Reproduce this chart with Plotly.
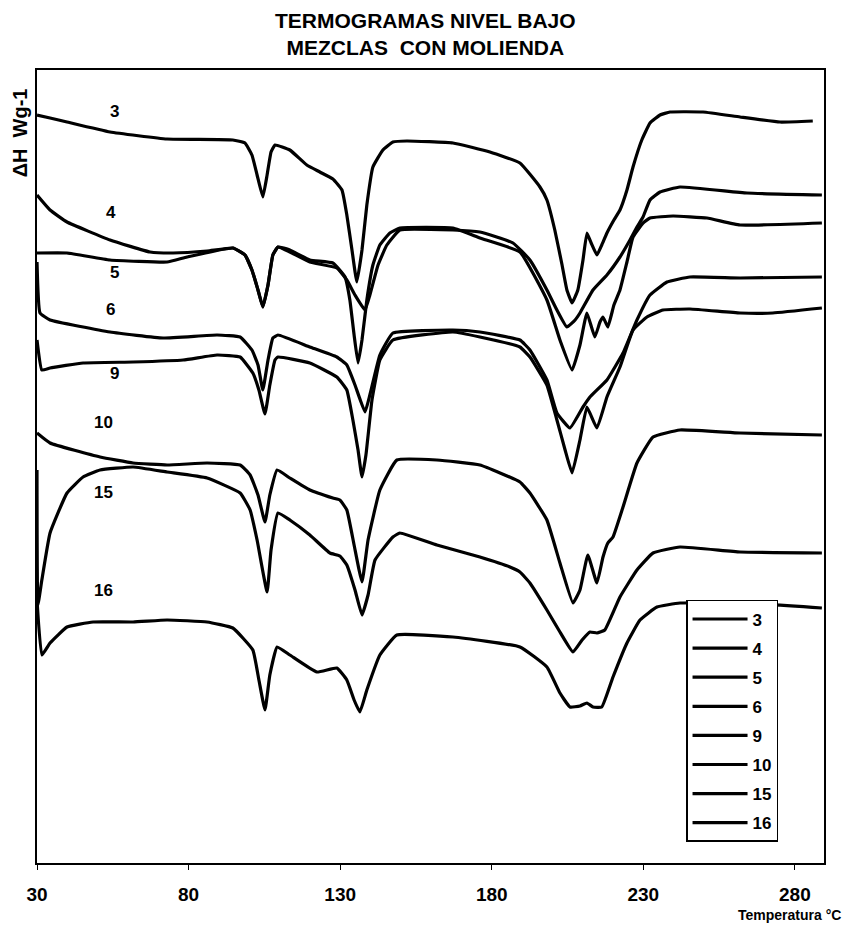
import plotly.graph_objects as go

# DSC thermograms (heat flow, arbitrary offset units) vs temperature
t3 = [30.0, 34.3, 39.9, 54.1, 72.9, 94.6, 98.6, 100.9, 102.6, 104.5, 105.9, 107.2, 108.5, 113.4, 119.0,
      123.3, 127.6, 130.6, 132.2, 133.9, 135.5, 137.2, 138.8, 140.8, 144.1, 147.4, 152.0, 167.2, 179.4,
      189.3, 195.9, 198.2, 200.8, 203.2, 204.8, 206.5, 208.4, 210.1, 211.4, 212.8, 214.7, 216.3, 218.0,
      220.3, 222.3, 224.6, 226.6, 229.5, 232.2, 235.5, 238.8, 249.7, 261.9, 275.1, 285.9]
h3 = [7.48, 7.45, 7.41, 7.31, 7.24, 7.23, 7.20, 7.08, 6.88, 6.66, 6.88, 7.11, 7.18, 7.13, 6.98,
      6.91, 6.84, 6.73, 6.48, 6.13, 5.81, 6.13, 6.58, 6.96, 7.13, 7.21, 7.22, 7.20, 7.11,
      7.00, 6.76, 6.63, 6.33, 5.98, 5.73, 5.60, 5.73, 6.03, 6.30, 6.20, 6.08, 6.18, 6.30,
      6.43, 6.53, 6.73, 6.96, 7.23, 7.40, 7.48, 7.51, 7.51, 7.46, 7.41, 7.42]

t4 = [30.0, 34.3, 39.9, 54.1, 67.3, 74.9, 86.1, 94.6, 98.6, 100.9, 102.9, 104.5, 106.2, 107.8, 109.5,
      113.4, 120.0, 128.9, 132.2, 134.9, 138.2, 139.8, 142.5, 145.4, 149.7, 167.2, 176.1, 187.0, 192.6,
      198.2, 201.5, 204.8, 207.5, 209.1, 213.4, 218.0, 222.3, 225.6, 227.9, 229.9, 232.2, 235.5, 242.1,
      264.2, 288.9]
h4 = [6.68, 6.53, 6.41, 6.23, 6.11, 6.10, 6.12, 6.15, 6.08, 5.93, 5.73, 5.56, 5.78, 6.08, 6.16,
      6.11, 6.01, 5.95, 5.83, 5.68, 5.53, 5.68, 5.98, 6.18, 6.33, 6.33, 6.31, 6.20, 6.03,
      5.73, 5.53, 5.36, 5.43, 5.50, 5.73, 5.88, 6.06, 6.23, 6.36, 6.46, 6.63, 6.71, 6.76,
      6.70, 6.68]

t5 = [30.0, 39.9, 54.1, 72.9, 79.5, 94.6, 98.6, 100.9, 102.9, 104.5, 106.2, 107.8, 109.5, 113.4, 120.0,
      127.6, 131.6, 133.2, 134.6, 135.9, 137.2, 138.8, 140.8, 143.1, 146.4, 149.7, 167.2, 176.1, 189.3,
      198.2, 202.5, 206.5, 209.1, 211.4, 214.0, 215.7, 216.7, 218.3, 220.3, 222.3, 224.6, 226.6, 229.9,
      232.2, 239.8, 251.0, 261.9, 288.9]
h5 = [6.10, 6.10, 6.03, 6.01, 6.06, 6.15, 6.08, 5.93, 5.73, 5.56, 5.78, 6.08, 6.16, 6.13, 6.03,
      6.00, 5.86, 5.63, 5.28, 5.00, 5.23, 5.63, 5.98, 6.18, 6.30, 6.35, 6.35, 6.25, 6.11,
      5.63, 5.23, 4.93, 5.18, 5.50, 5.26, 5.41, 5.46, 5.36, 5.58, 5.73, 6.01, 6.26, 6.40,
      6.45, 6.47, 6.45, 6.38, 6.40]

t6 = [30.0, 31.0, 34.3, 54.1, 71.6, 89.4, 97.0, 100.9, 102.9, 104.5, 106.2, 107.8, 109.5, 120.0, 128.9,
      132.2, 134.9, 138.2, 139.8, 143.1, 147.4, 167.2, 176.1, 189.3, 192.6, 198.2, 201.5, 205.8, 210.1,
      212.4, 218.0, 223.3, 227.9, 232.2, 237.8, 245.4, 261.9, 288.9]
h6 = [6.01, 5.50, 5.43, 5.31, 5.25, 5.28, 5.26, 5.13, 4.98, 4.73, 5.03, 5.25, 5.28, 5.16, 5.06,
      4.98, 4.78, 4.51, 4.68, 5.08, 5.30, 5.33, 5.31, 5.23, 5.13, 4.83, 4.50, 4.35, 4.56,
      4.66, 4.83, 5.10, 5.43, 5.68, 5.81, 5.86, 5.85, 5.86]

t9 = [30.0, 31.6, 34.3, 45.2, 61.7, 78.2, 89.4, 97.0, 101.2, 103.2, 105.2, 106.8, 108.5, 109.5, 120.0,
      128.9, 132.2, 134.2, 135.9, 137.2, 138.5, 140.5, 143.1, 147.4, 167.2, 176.1, 189.3, 192.6, 198.2,
      201.5, 204.2, 206.5, 209.1, 211.4, 214.7, 218.0, 222.3, 226.6, 231.2, 236.5, 245.4, 261.9, 272.7,
      288.9]
h9 = [5.23, 4.93, 4.95, 5.00, 5.01, 5.03, 5.08, 5.06, 4.90, 4.73, 4.49, 4.78, 5.03, 5.06, 5.00,
      4.86, 4.73, 4.43, 4.13, 3.86, 4.08, 4.63, 5.03, 5.23, 5.31, 5.26, 5.16, 5.06, 4.78,
      4.43, 4.13, 3.90, 4.23, 4.56, 4.35, 4.66, 4.96, 5.33, 5.46, 5.53, 5.54, 5.50, 5.50,
      5.55]

t10 = [30.0, 34.3, 50.8, 61.7, 72.9, 86.1, 97.0, 100.3, 102.9, 105.2, 106.8, 109.2, 113.4, 120.0, 127.6,
       129.9, 132.2, 134.6, 137.2, 139.2, 143.1, 148.7, 161.9, 176.1, 189.3, 192.6, 198.2, 202.5, 206.8,
       209.1, 211.7, 214.7, 216.7, 218.3, 220.0, 223.3, 227.9, 233.2, 242.1, 261.9, 288.9]
h10 = [4.30, 4.20, 4.06, 4.00, 3.98, 4.00, 3.98, 3.88, 3.68, 3.41, 3.68, 3.93, 3.85, 3.73, 3.65,
       3.63, 3.53, 3.18, 2.81, 3.23, 3.73, 4.03, 4.03, 3.98, 3.81, 3.70, 3.43, 3.00, 2.60,
       2.73, 3.08, 2.80, 3.06, 3.20, 3.26, 3.56, 4.00, 4.26, 4.33, 4.30, 4.28]

t15 = [30.0, 30.3, 31.6, 34.3, 39.9, 45.2, 50.8, 61.7, 72.9, 86.1, 97.0, 100.3, 102.6, 105.9, 107.2,
       109.5, 113.4, 120.0, 126.6, 129.9, 132.2, 134.9, 137.2, 139.2, 141.5, 147.4, 149.7, 161.9, 176.1,
       186.0, 189.3, 192.6, 198.2, 202.5, 206.8, 209.8, 212.4, 214.7, 217.3, 222.3, 227.9, 233.2, 242.1,
       261.9, 288.9]
h15 = [3.93, 2.58, 2.83, 3.30, 3.70, 3.86, 3.93, 3.96, 3.91, 3.85, 3.70, 3.53, 3.23, 2.71, 3.13,
       3.50, 3.43, 3.28, 3.10, 3.07, 2.98, 2.73, 2.48, 2.68, 3.03, 3.26, 3.30, 3.18, 3.06,
       2.96, 2.91, 2.80, 2.53, 2.31, 2.11, 2.23, 2.31, 2.30, 2.33, 2.66, 2.93, 3.10, 3.16,
       3.11, 3.10]

t16 = [30.0, 31.6, 34.3, 39.9, 48.5, 61.7, 72.9, 86.1, 94.6, 101.2, 103.2, 105.2, 106.8, 109.2, 113.4,
       122.3, 128.9, 132.2, 134.6, 136.5, 138.8, 143.1, 148.7, 167.2, 189.3, 198.2, 202.5, 205.8, 209.1,
       211.4, 213.4, 216.3, 220.0, 224.6, 228.9, 234.5, 242.1, 261.9, 288.9]
h16 = [2.63, 2.08, 2.20, 2.36, 2.41, 2.41, 2.43, 2.41, 2.35, 2.13, 1.83, 1.53, 1.88, 2.16, 2.08,
       1.91, 1.95, 1.83, 1.63, 1.51, 1.73, 2.08, 2.28, 2.26, 2.16, 1.96, 1.70, 1.56, 1.57,
       1.60, 1.56, 1.56, 1.86, 2.20, 2.43, 2.56, 2.60, 2.60, 2.55]

sample_names = ["3", "4", "5", "6", "9", "10", "15", "16"]
temps = [t3, t4, t5, t6, t9, t10, t15, t16]
heat = [h3, h4, h5, h6, h9, h10, h15, h16]

x_ticks = [30, 80, 130, 180, 230, 280]

# where each sample number is written next to its curve (T, ΔH)
label_pos = {"3": (55.7, 7.52), "4": (54.4, 6.51), "5": (55.7, 5.91), "6": (54.4, 5.54),
             "9": (55.7, 4.90), "10": (51.8, 4.41), "15": (51.8, 3.71), "16": (51.8, 2.73)}

FONT = "Liberation Sans, Arial, sans-serif"

fig = go.Figure()
for name, t, h in zip(sample_names, temps, heat):
    fig.add_trace(go.Scatter(
        x=t, y=h, mode="lines", name=name, legendgroup=name,
        line=dict(color="black", width=3.2, shape="spline", smoothing=0.35),
    ))

annotations = []
for name in sample_names:
    lx, ly = label_pos[name]
    annotations.append(dict(x=lx, y=ly, xref="x", yref="y", text=name, showarrow=False,
                            font=dict(family=FONT, size=17, color="black", weight="bold")))

annotations.append(dict(x=-0.022, y=0.921, xref="paper", yref="paper", text="ΔH\u00a0 Wg-1",
                        textangle=-90, showarrow=False, xanchor="center", yanchor="middle",
                        font=dict(family=FONT, size=20, color="black", weight="bold")))
annotations.append(dict(x=1.024, y=-0.066, xref="paper", yref="paper", text="Temperatura °C",
                        showarrow=False, xanchor="right", yanchor="middle",
                        font=dict(family=FONT, size=14, color="black", weight="bold")))
annotations.append(dict(x=0.4935, y=1.08, xref="paper", yref="paper",
                        text="TERMOGRAMAS NIVEL BAJO<br>MEZCLAS\u00a0 CON MOLIENDA",
                        showarrow=False, xanchor="center", yanchor="top",
                        font=dict(family=FONT, size=21, color="black", weight="bold")))

fig.update_layout(
    width=845, height=932,
    margin=dict(l=37, r=21, t=70, b=69),
    paper_bgcolor="white", plot_bgcolor="white",
    showlegend=True,
    legend=dict(x=0.8247, y=0.3317, xanchor="left", yanchor="top",
                bgcolor="white", bordercolor="black", borderwidth=1.5,
                font=dict(family=FONT, size=17, color="black", weight="bold"),
                tracegroupgap=4, itemwidth=55),
    annotations=annotations,
)
fig.update_xaxes(range=[30, 289.6], tickvals=x_ticks, ticktext=[str(v) for v in x_ticks],
                 showline=True, linecolor="black", linewidth=1.5, mirror=True,
                 ticks="outside", ticklen=5, tickcolor="black", showgrid=False, zeroline=False,
                 ticklabelstandoff=8,
                 tickfont=dict(family=FONT, size=19, color="black", weight="bold"))
fig.update_yaxes(range=[0, 7.93], showticklabels=False, ticks="",
                 showline=True, linecolor="black", linewidth=1.5, mirror=True,
                 showgrid=False, zeroline=False)

fig.write_html("out.html")
